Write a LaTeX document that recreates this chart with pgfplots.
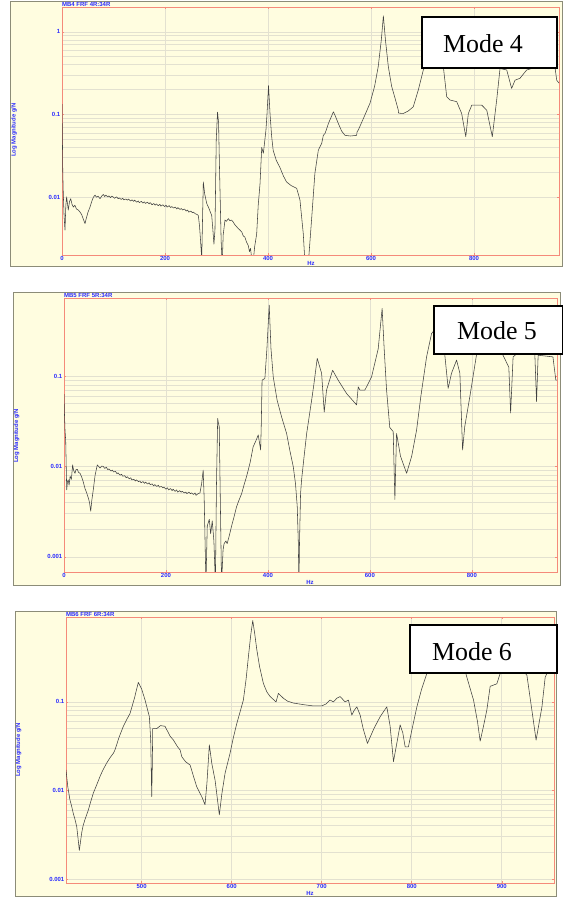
\documentclass[border=0pt]{standalone}
\usepackage{fontspec}
\setmainfont{Liberation Serif}
\newfontfamily\sansf{Liberation Sans}
\usepackage{pgfplots}
\pgfplotsset{compat=1.18}
\definecolor{bgy}{HTML}{FFFDE0}
\definecolor{axr}{HTML}{F58A7A}
\definecolor{grd}{HTML}{E3E1D0}
\definecolor{frm}{HTML}{8C8C78}
\definecolor{tblue}{HTML}{2B2BFF}
\newcommand{\smallblue}{\sansf\bfseries\fontsize{6}{7}\selectfont}
\begin{document}
\begin{tikzpicture}
\useasboundingbox (0bp,0bp) rectangle (563bp,897bp);
% outer panels
\draw[frm, fill=bgy, line width=0.8bp] (10bp,631bp) rectangle (562bp,896bp);
\draw[frm, fill=bgy, line width=0.8bp] (13bp,312bp) rectangle (560bp,605bp);
\draw[frm, fill=bgy, line width=0.8bp] (15bp,1bp) rectangle (556bp,286bp);

% ---------------- Panel 1 : Mode 4
\begin{axis}[scale only axis, anchor=south west, ymode=log,
  axis background/.style={fill=bgy},
  axis line style={draw=axr, line width=0.8bp},
  tick style={draw=axr, line width=0.5bp},
  major tick length=2bp, minor tick length=0pt,
  xmajorgrids, ymajorgrids, yminorgrids,
  major grid style={draw=grd, line width=0.6bp},
  minor grid style={draw=grd, line width=0.6bp},
  tick label style={font=\smallblue, text=tblue},
  xticklabel style={inner sep=1bp},
  yticklabel style={inner sep=1.5bp},
  at={(62bp,642bp)}, width=497bp, height=248bp,
  xmin=0, xmax=965, ymin=0.002, ymax=2,
  xtick={0,200,400,600,800}, xticklabels={0,200,400,600,800},
  ytick={0.01,0.1,1}, yticklabels={0.01,0.1,1}]
\addplot[line width=0.55bp, color=black!75, mark=none, line join=round] coordinates {
(0,0.134)(0.8,0.05)(1.5,0.02)(2.5,0.0111)(4,0.006)(5.8,0.004)(7.5,0.008)(9,0.0101)(10.5,0.0085)(12.2,0.0070)(14.5,0.0088)(16.9,0.0096)(19.5,0.0082)(22,0.0076)(25,0.0080)(28,0.0072)(31.7,0.0070)(35,0.0066)(38,0.0062)(41.5,0.0054)(44.7,0.0048)(47,0.0055)(50.5,0.0066)(54.4,0.0076)(58,0.0090)(61,0.0100)(64.1,0.0106)(67,0.0100)(70,0.0103)(73.8,0.0096)(77,0.0103)(80.2,0.0108)
(83,0.0102)(85,0.0106)(89,0.0101)(91,0.0104)(94,0.0099)(97,0.0103)(100,0.0100)(102,0.0097)(106,0.0101)(109,0.0096)(111,0.0098)(115,0.0094)(118,0.0097)(120,0.0093)(124,0.0095)(127,0.0092)(129,0.0095)(133,0.0090)(136,0.0093)(139,0.0089)(141,0.0092)(145,0.0087)(148,0.0090)(150,0.0086)(154,0.0089)(157,0.0085)(160,0.0088)(162,0.0084)(166,0.0087)(169,0.0083)(171,0.0086)(175,0.0081)(178,0.0084)(181,0.0080)(183,0.0083)(187,0.0079)(190,0.0082)(192,0.0078)(196,0.0081)(199,0.0077)(202,0.0080)(204,0.0076)(208,0.0079)(211,0.0075)(213,0.0077)(217,0.0074)(220,0.0076)(223,0.0072)(225,0.0075)(229,0.0071)(232,0.0073)(234,0.0070)(238,0.0072)(241,0.0068)(244,0.0070)(246,0.0066)(250,0.0068)(253,0.0065)(255,0.0066)(259,0.0063)(262,0.0062)(264.7,0.0060)
(267,0.0045)(269,0.003)(271.3,0.0018)(273,0.006)(274.4,0.0153)(277,0.011)(281,0.0084)(285,0.0074)(290.7,0.006)(293,0.004)(295,0.0027)(297,0.004)(299.5,0.05)(302,0.107)(304,0.08)(306,0.02)(309,0.003)(311,0.0015)(313,0.0035)
(316.5,0.0053)(319,0.0051)(323,0.0055)(326,0.0052)(329,0.0053)(332.6,0.0050)(335,0.0047)(339,0.0044)(342,0.0042)(345.6,0.0040)(349,0.0038)(352,0.0034)(355,0.0033)(358,0.0029)(361.7,0.0026)(364,0.0022)(366,0.0024)(368,0.0019)(371,0.0016)(374,0.0025)(378,0.0036)
(381,0.008)(384.5,0.0146)(387.8,0.04)(391,0.034)(396,0.065)(398,0.1)(401,0.224)(404,0.1)(407,0.055)(410,0.037)(416,0.028)(423,0.023)(430,0.018)(436,0.0153)(445,0.0138)(455.7,0.0128)(462,0.0093)(465,0.006)(468.5,0.0036)(472,0.0015)(478,0.0015)(485,0.0058)(491,0.0194)(497.7,0.037)(504.3,0.045)(507.4,0.056)(510.7,0.059)
(518,0.08)(527,0.108)(531,0.095)(536.5,0.078)(543,0.063)(549.5,0.056)(560,0.055)(572,0.056)(573,0.062)(575.3,0.065)(587,0.095)(598,0.137)(607,0.22)(614,0.38)(620,0.8)(624,1.56)(628,0.8)(633.6,0.38)(640,0.22)(646.6,0.158)(653,0.113)(653.5,0.104)(662.7,0.103)(672,0.11)(682,0.124)(692,0.2)(701.6,0.346)(715,0.5)(730,0.5)(740.4,0.38)(747,0.164)(753.4,0.15)(766.4,0.143)(776,0.103)(784,0.054)(789,0.103)(795.7,0.13)(815,0.13)(824.7,0.113)(835.5,0.054)(844,0.15)(850.5,0.36)(863.5,0.346)(873,0.207)(879.6,0.26)(889.3,0.275)(902.3,0.346)(925,0.38)(947.6,0.42)(957,0.38)(960.6,0.26)(965,0.24)
};
\end{axis}

% ---------------- Panel 2 : Mode 5
\begin{axis}[scale only axis, anchor=south west, ymode=log,
  axis background/.style={fill=bgy},
  axis line style={draw=axr, line width=0.8bp},
  tick style={draw=axr, line width=0.5bp},
  major tick length=2bp, minor tick length=0pt,
  xmajorgrids, ymajorgrids, yminorgrids,
  major grid style={draw=grd, line width=0.6bp},
  minor grid style={draw=grd, line width=0.6bp},
  tick label style={font=\smallblue, text=tblue},
  xticklabel style={inner sep=1bp},
  yticklabel style={inner sep=1.5bp},
  at={(64bp,325bp)}, width=493bp, height=274bp,
  xmin=0, xmax=967, ymin=0.00068, ymax=0.73,
  xtick={0,200,400,600,800}, xticklabels={0,200,400,600,800},
  ytick={0.001,0.01,0.1}, yticklabels={0.001,0.01,0.1}]
\addplot[line width=0.55bp, color=black!75, mark=none, line join=round] coordinates {
(0,0.063)(0.8,0.04)(2,0.025)(3.3,0.0196)(5.3,0.0055)(6.8,0.0068)(8.4,0.0071)(10,0.0062)(12,0.0078)(14.5,0.0072)(16.9,0.0104)(19,0.0090)(21.6,0.0084)(23.5,0.0092)(26.1,0.0093)(28.5,0.0086)(31.4,0.0084)(34,0.0078)(37,0.0070)(41.2,0.0057)(44,0.0052)(47.6,0.0045)(50,0.0040)(52.4,0.0032)(54.5,0.0042)(57.4,0.0055)(61,0.0080)(65.3,0.0104)(68,0.0100)(70.6,0.0096)(74,0.0101)(77,0.0100)
(80,0.0095)(83,0.0098)(86,0.0092)(88,0.0094)(92,0.0089)(95,0.0091)(97,0.0087)(101,0.0088)(104,0.0083)(106,0.0085)(110,0.0080)(113,0.0082)(115,0.0078)(119,0.0079)(122,0.0075)(124,0.0077)(128,0.0073)(131,0.0075)(133,0.0071)(137,0.0072)(140,0.0069)(142,0.0071)(146,0.0068)(149,0.0069)(151,0.0066)(155,0.0068)(158,0.0065)(160,0.0067)(164,0.0064)(167,0.0066)(169,0.0063)(173,0.0064)(176,0.0061)(178,0.0063)(182,0.0060)(185,0.0062)(187,0.0059)(191,0.0060)(194,0.0058)(196,0.0059)(200,0.0056)(203,0.0058)(205,0.0055)(209,0.0057)(212,0.0054)(214,0.0056)(218,0.0053)(221,0.0055)(223,0.0052)(227,0.0054)(230,0.0052)(232,0.0053)(236,0.0051)(239,0.0052)(241,0.0050)(245,0.0052)(248,0.0050)(250,0.0051)(254,0.0049)(257,0.0051)(259,0.0048)(263,0.0050)(266.7,0.0051)(270,0.0065)(273,0.0091)
(275,0.0043)(278.4,0.0005)(281,0.0022)(285,0.0026)(287.6,0.0018)(290.8,0.0025)(294,0.0015)(297,0.0005)(299,0.006)(301.4,0.034)(303,0.03)(304.5,0.0275)(307,0.003)(309,0.0005)(312,0.0012)(314,0.0014)(317.6,0.0015)(320,0.0014)(324,0.0017)(328.8,0.0022)(333,0.0027)(338.6,0.0036)(343,0.0042)(348.4,0.005)(353,0.0062)(358,0.0077)(365,0.011)(371,0.0165)(376,0.019)(381,0.0223)(385.7,0.0152)(387,0.03)(388.5,0.09)(394,0.094)(398,0.2)(402.5,0.61)(406,0.2)(410.4,0.098)(418,0.054)(427,0.035)(436.6,0.0232)(443,0.015)(449.6,0.010)(454,0.0065)(457.5,0.0036)(459.5,0.0015)(460.8,0.0005)(462,0.0015)(464,0.005)(466,0.0071)(471,0.013)(476,0.0232)(485.7,0.054)(490,0.08)(496.7,0.157)(505.3,0.107)(510.4,0.040)(515,0.07)(526.9,0.116)(537.8,0.09)(554.3,0.064)(573.9,0.048)(577.1,0.076)(580.4,0.07)(590.2,0.07)(603.3,0.098)(616.3,0.2)(624,0.56)(628,0.2)(632.7,0.07)(639,0.027)(645.7,0.0243)(649,0.0043)(652.3,0.0232)(660,0.013)(672,0.0084)(682,0.013)(691.6,0.0253)(700,0.06)(711.2,0.163)(721,0.296)(728,0.33)(735,0.3)(747,0.17)(753.5,0.073)(760,0.107)(770,0.15)(776.5,0.107)(781.8,0.0152)(786,0.0275)(796,0.059)(809,0.17)(830,0.3)(855,0.2)(862.7,0.163)(872.5,0.125)(876,0.039)(880.9,0.163)(900,0.2)(920,0.2)(923.5,0.175)(926.9,0.052)(930,0.17)(959,0.163)(964.7,0.09)(967,0.09)
};
\end{axis}

% ---------------- Panel 3 : Mode 6
\begin{axis}[scale only axis, anchor=south west, ymode=log,
  axis background/.style={fill=bgy},
  axis line style={draw=axr, line width=0.8bp},
  tick style={draw=axr, line width=0.5bp},
  major tick length=2bp, minor tick length=0pt,
  xmajorgrids, ymajorgrids, yminorgrids,
  major grid style={draw=grd, line width=0.6bp},
  minor grid style={draw=grd, line width=0.6bp},
  tick label style={font=\smallblue, text=tblue},
  xticklabel style={inner sep=1bp},
  yticklabel style={inner sep=1.5bp},
  at={(66bp,14bp)}, width=488bp, height=266bp,
  xmin=416, xmax=958, ymin=0.0009, ymax=0.91,
  xtick={500,600,700,800,900}, xticklabels={500,600,700,800,900},
  ytick={0.001,0.01,0.1}, yticklabels={0.001,0.01,0.1}]
\addplot[line width=0.55bp, color=black!75, mark=none, line join=round] coordinates {
(416,0.017)(418,0.011)(420.4,0.0078)(422,0.0068)(424.1,0.0055)(426,0.0047)(427.9,0.0039)(429.5,0.0028)(430.8,0.0021)(433.4,0.0033)(435,0.0040)(437.1,0.0047)(440.8,0.006)(443,0.0072)(446.3,0.0093)(450,0.0115)(453.8,0.0144)(457,0.017)(461.2,0.0204)(465,0.0235)(468.6,0.0263)(470.4,0.0287)(475,0.04)(479.7,0.053)(483,0.062)(487.1,0.074)(492,0.11)(496.3,0.166)(500,0.14)(503.8,0.105)(508.6,0.068)(510.1,0.037)(511.2,0.0085)(511.9,0.02)(512.3,0.05)(516.8,0.05)(521,0.054)(526,0.053)(531.6,0.041)(535.2,0.0372)(540,0.031)(542.7,0.0287)(544.6,0.024)(549,0.021)(553.8,0.0194)(558,0.014)(561.2,0.011)(566.8,0.0085)(570.4,0.0069)(572.5,0.012)(575.2,0.0327)(578,0.02)(581.6,0.013)(586.3,0.0053)(589,0.009)(592.7,0.0157)(598.2,0.0263)(602,0.04)(605.7,0.057)(609,0.075)(613,0.105)(616,0.18)(618.6,0.325)(621,0.55)(623.4,0.83)(625.5,0.6)(627.9,0.39)(631,0.25)(635.2,0.162)(639,0.13)(642.7,0.115)(649.3,0.1)(651.9,0.125)(657.4,0.11)(662,0.102)(668.6,0.097)(680,0.093)(690.8,0.09)(700.1,0.09)(705,0.095)(709.3,0.105)(713,0.1)(716.8,0.11)(720.4,0.115)(726,0.1)(729.7,0.105)(733.4,0.071)(736,0.08)(739,0.088)(742.7,0.071)(746,0.05)(750.8,0.034)(758,0.05)(764.9,0.068)(772.3,0.088)(776,0.053)(779.7,0.0212)(783.4,0.034)(787.1,0.055)(790,0.045)(792.7,0.031)(796.3,0.031)(800.1,0.048)(805.7,0.088)(811,0.14)(816.8,0.21)(822.3,0.25)(840,0.35)(855,0.33)(861.2,0.19)(868.6,0.105)(873,0.06)(876,0.036)(880,0.055)(883.4,0.081)(887.1,0.15)(894.5,0.16)(898.2,0.21)(910,0.3)(920,0.25)(927.9,0.2)(933.4,0.081)(938.1,0.037)(944.6,0.088)(948.2,0.19)(950.1,0.21)(958,0.35)
};
\end{axis}

% titles, labels
\node[anchor=west, inner sep=0, text=tblue, font=\smallblue] at (62bp,893bp) {MB4 FRF 4R:34R};
\node[anchor=west, inner sep=0, text=tblue, font=\smallblue] at (64bp,601.5bp) {MB5 FRF 5R:34R};
\node[anchor=west, inner sep=0, text=tblue, font=\smallblue] at (66bp,282.5bp) {MB6 FRF 6R:34R};
\node[rotate=90, inner sep=0, text=tblue, font=\smallblue] at (14bp,767bp) {Log Magnitude g/N};
\node[rotate=90, inner sep=0, text=tblue, font=\smallblue] at (16.5bp,461bp) {Log Magnitude g/N};
\node[rotate=90, inner sep=0, text=tblue, font=\smallblue] at (18.5bp,147bp) {Log Magnitude g/N};
\node[inner sep=0, text=tblue, font=\smallblue] at (311bp,633.5bp) {Hz};
\node[inner sep=0, text=tblue, font=\smallblue] at (310bp,314.5bp) {Hz};
\node[inner sep=0, text=tblue, font=\smallblue] at (310bp,4bp) {Hz};

% mode boxes
\draw[line width=1.5bp, fill=white] (422bp,829bp) rectangle (557bp,880bp);
\node[inner sep=0, font=\fontsize{26}{30}\selectfont] at (483bp,853bp) {Mode 4};
\draw[line width=1.5bp, fill=white] (434bp,543bp) rectangle (563bp,591bp);
\node[inner sep=0, font=\fontsize{26}{30}\selectfont] at (497bp,566bp) {Mode 5};
\draw[line width=1.5bp, fill=white] (410bp,224bp) rectangle (557bp,272bp);
\node[inner sep=0, font=\fontsize{26}{30}\selectfont] at (472bp,245bp) {Mode 6};
\end{tikzpicture}
\end{document}
